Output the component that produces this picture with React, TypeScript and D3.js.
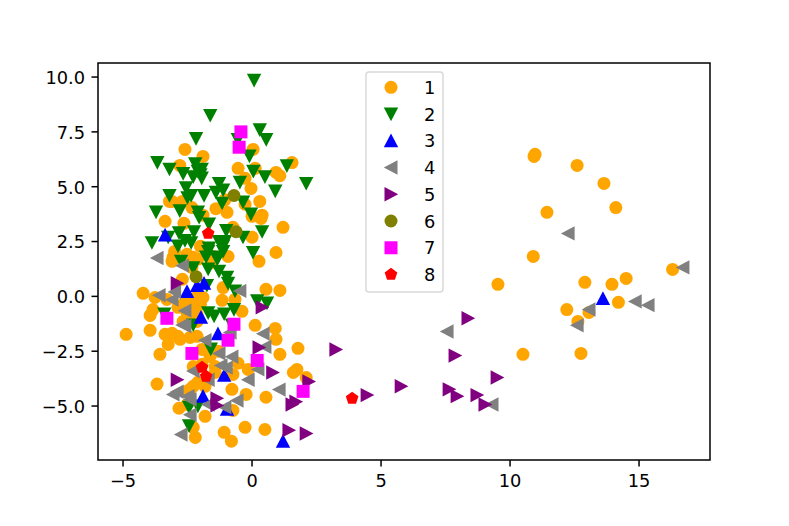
import React from 'react';
import * as d3 from 'd3';

const series1: number[][] = [[-2.6,6.7],[-1.9,6.38],[0.04,6.7],[-2.8,5.97],[-0.54,5.84],[0.12,5.84],[1.55,6.1],[0.93,5.65],[1.08,5.5],[-0.27,5.38],[-0.04,4.92],[-3.2,4.33],[-3.1,4.33],[-2.7,4.33],[-2.33,4.05],[-1.4,4.0],[-0.97,3.83],[-1.05,4.4],[0.3,4.33],[-0.27,4.2],[0.39,3.7],[0.35,3.55],[0,3.65],[-1.9,3.7],[-3.37,3.42],[-2.64,3.33],[1.2,3.15],[-0.74,3.15],[0,2.7],[-2.0,2.28],[0.93,2.0],[-0.93,1.82],[0.27,1.6],[-3.0,2.05],[-3.06,1.78],[-2.52,1.92],[-2.28,1.78],[-2.1,1.7],[-1.5,1.82],[-3.1,1.6],[-2.33,1.32],[-1.55,1.55],[-2.7,0.78],[-4.22,0.14],[-3.76,-0.05],[-3.3,-0.14],[-1.12,0.4],[0.54,0.32],[1.08,0.27],[-1.9,-0.05],[-2.13,0],[-2.4,-0.14],[-1.16,-0.18],[-0.66,-0.14],[-3.84,-0.6],[-3.95,-0.87],[-2.87,-0.5],[-2.28,-0.6],[-2.0,-0.36],[-2.67,-0.36],[-2.52,-0.73],[-2.13,-0.82],[-2.4,-1.14],[-2.67,-1.14],[-2.13,-1.14],[-0.39,-0.68],[0.12,-1.32],[0.9,-1.46],[0.93,-1.96],[-3.95,-1.55],[-4.88,-1.73],[-3.37,-1.73],[-3.1,-1.68],[-3.25,-2.19],[-2.87,-1.82],[-2.79,-1.96],[-2.4,-1.87],[-2.13,-1.82],[-1.94,-2.42],[-1.63,-2.74],[-1.32,-2.5],[-1.94,-3.1],[-3.57,-2.64],[1.78,-2.37],[1.08,-2.64],[-0.54,-3.05],[-2.28,-3.2],[-1.43,-3.47],[-1.43,-3.2],[-0.74,-3.56],[-0.15,-3.33],[1.6,-3.47],[1.74,-3.33],[2.1,-3.7],[-3.68,-4.0],[-2.1,-3.92],[-2.28,-4.1],[-1.82,-4.1],[-2.52,-4.33],[-0.78,-4.24],[-2.4,-4.24],[-0.23,-4.47],[0.54,-4.6],[-2.83,-5.1],[-1.82,-5.47],[-0.74,-5.2],[-2.52,-4.93],[-2.28,-5.97],[-2.2,-6.43],[-1.08,-6.2],[-0.8,-6.6],[-0.27,-5.97],[0.5,-6.07],[9.53,0.55],[10.93,6.38],[10.97,6.48],[12.6,5.97],[13.64,5.15],[14.1,4.05],[11.43,3.83],[10.9,1.82],[12.9,0.64],[13.95,0.55],[14.5,0.82],[12.2,-0.6],[12.63,-1.14],[13.06,-0.73],[14.2,-0.27],[16.3,1.23],[10.5,-2.64],[12.75,-2.6]];
const series2: number[][] = [[0.08,9.85],[-1.62,8.25],[0.3,7.6],[0.55,7.15],[-0.55,7.15],[-2.17,7.2],[-3.67,6.1],[-3.2,5.8],[-0.1,6.4],[1.35,5.95],[2.1,5.15],[0.05,5.7],[0.5,5.45],[0.9,4.8],[-2.67,5.6],[-2.2,6.05],[-1.95,5.8],[-2.28,5.45],[-2.1,5.7],[-2.0,5.55],[-1.95,5.4],[-2.56,4.95],[-2.36,4.6],[-2.5,4.5],[-3.2,4.6],[-1.86,4.6],[-1.28,5.15],[-1.12,4.85],[-1.4,4.75],[-0.47,5.2],[-1.16,4.25],[-0.35,4.3],[-0.04,3.75],[-3.72,3.85],[-2.8,3.9],[-2.1,3.85],[-2.05,3.6],[-1.67,3.3],[-2.83,2.9],[-2.25,2.95],[-1.0,3.0],[0.39,2.95],[-0.35,2.7],[-3.88,2.45],[-3.25,2.7],[-2.87,2.3],[-2.6,2.55],[-2.36,2.45],[-1.28,2.5],[-1.05,2.5],[-1.12,2.3],[-1.67,2.2],[-1.7,2.05],[-1.3,1.8],[-1.12,2.05],[0.04,2.0],[-2.75,1.6],[-2.28,1.3],[-1.78,1.8],[-1.7,1.25],[-1.35,1.7],[-1.28,1.15],[-0.97,0.87],[-0.93,0.6],[-0.66,0.25],[-1.75,0.5],[0.2,-0.2],[0.58,-0.3],[-3.4,-0.8],[-2.28,-1.3],[-1.7,-0.75],[-1.47,-0.9],[-1.08,-0.8],[-0.7,-0.6],[-0.78,-1.3],[-1.6,-2.4],[-2.44,-5.05],[-2.1,-5.0],[-2.44,-5.9]];
const series3: number[][] = [[-3.37,2.8],[-2.52,0.22],[-2.13,0.5],[-1.86,0.6],[-1.98,-0.95],[-1.32,-1.7],[-1.08,-3.6],[-1.9,-4.55],[-0.97,-5.15],[1.2,-6.6],[13.6,-0.1]];
const series4: number[][] = [[-3.68,1.75],[-2.7,1.4],[-3.0,0.2],[-3.6,0.05],[-3.1,-0.15],[-2.6,-0.65],[-2.7,-1.3],[-2.6,-1.35],[-0.47,0.25],[0.43,-1.7],[0.5,-2.3],[-1.82,-2.0],[-0.85,-1.65],[-1.28,-2.6],[-0.78,-2.75],[-1.2,-3.15],[-1.0,-3.25],[-2.28,-3.4],[-1.7,-3.8],[0.23,-3.33],[-0.15,-3.8],[1.05,-4.25],[-3.06,-4.47],[-2.9,-4.35],[-2.48,-4.55],[-2.4,-4.7],[-1.7,-4.93],[-1.05,-5.05],[-0.58,-4.75],[-2.4,-5.4],[-2.75,-6.3],[12.25,2.87],[7.56,-1.6],[9.3,-4.93],[12.6,-1.32],[13.06,-0.6],[14.85,-0.23],[15.35,-0.4],[16.7,1.32]];
const series5: number[][] = [[-2.9,0.6],[0.39,-0.5],[0.27,-2.33],[0.8,-3.47],[-2.9,-3.8],[-1.36,-4.65],[-1.36,-4.97],[1.7,-4.8],[1.55,-4.93],[2.2,-3.88],[1.43,-6.1],[2.1,-6.25],[3.25,-2.42],[4.46,-4.5],[5.78,-4.1],[7.64,-4.24],[7.95,-4.55],[8.37,-1.0],[7.87,-2.7],[8.72,-4.5],[9.03,-4.93],[9.5,-3.7]];
const series6: number[][] = [[-0.7,4.6],[-0.62,2.95],[-2.17,0.9]];
const series7: number[][] = [[-0.43,7.5],[-0.5,6.8],[-3.3,-1.0],[-0.7,-1.27],[-0.93,-2.0],[-2.33,-2.6],[0.2,-2.92],[1.98,-4.33]];
const series8: number[][] = [[-1.7,2.87],[-1.94,-3.24],[-1.78,-3.65],[3.88,-4.65]];

const legendLabels = ['1', '2', '3', '4', '5', '6', '7', '8'];
const colors = ['orange', 'green', 'blue', 'gray', 'purple', 'olive', 'magenta', 'red'];
const shapes = ['circle', 'down', 'up', 'left', 'right', 'circle', 'square', 'pentagon'];
const allSeries = [series1, series2, series3, series4, series5, series6, series7, series8];
const xTicks = [-5, 0, 5, 10, 15];
const yTicks = [-5, -2.5, 0, 2.5, 5, 7.5, 10];

const W = 789, H = 526;
const L = 98, R = 710, T = 63, B = 460;
const FONT = '"DejaVu Sans", sans-serif';
const FS = 17.8;

const x = d3.scaleLinear().domain([-5.97, 17.75]).range([L, R]);
const y = d3.scaleLinear().domain([-7.46, 10.64]).range([B, T]);

const s = 6.5;
const t = 7.2;
function markerPath(shape: string): string {
  const p = d3.path();
  const poly = (pts: number[][]) => {
    pts.forEach((q, i) => (i ? p.lineTo(q[0], q[1]) : p.moveTo(q[0], q[1])));
    p.closePath();
  };
  if (shape === 'circle') p.arc(0, 0, s, 0, Math.PI * 2);
  else if (shape === 'down') poly([[-t, -s], [t, -s], [0, t]]);
  else if (shape === 'up') poly([[-t, s], [t, s], [0, -t]]);
  else if (shape === 'left') poly([[s, -t], [s, t], [-t, 0]]);
  else if (shape === 'right') poly([[-s, -t], [-s, t], [t, 0]]);
  else if (shape === 'square') poly([[-s, -s], [s, -s], [s, s], [-s, s]]);
  else poly(d3.range(5).map(i => {
    const a = -Math.PI / 2 + (i * 2 * Math.PI) / 5;
    return [s * 1.02 * Math.cos(a), s * 1.02 * Math.sin(a)];
  }));
  return p.toString();
}

const fmtY = (v: number) => v.toFixed(1).replace('-', '\u2212');
const fmtX = (v: number) => String(v).replace('-', '\u2212');

export default function App() {
  const legY = d3.scaleLinear().domain([0, 7]).range([87.3, 274.5]);
  return (
    <svg width={W} height={H} viewBox={`0 0 ${W} ${H}`} style={{ position: 'fixed', left: 0, top: 0, background: '#fff' }} fontFamily={FONT} fontSize={FS}>
      {allSeries.map((ser, i) => (
        <g key={i} fill={colors[i]}>
          {ser.map((d, j) => (
            <path key={j} d={markerPath(shapes[i])} transform={`translate(${x(d[0])},${y(d[1])})`} />
          ))}
        </g>
      ))}
      <rect x={L} y={T} width={R - L} height={B - T} fill="none" stroke="#000" strokeWidth={1.5} />
      {xTicks.map(v => (
        <g key={v} transform={`translate(${x(v)},${B})`}>
          <line y2={6.5} stroke="#000" strokeWidth={1.5} />
          <text y={26.5} textAnchor="middle" fill="#000">{fmtX(v)}</text>
        </g>
      ))}
      {yTicks.map(v => (
        <g key={v} transform={`translate(${L},${y(v)})`}>
          <line x2={-6.5} stroke="#000" strokeWidth={1.5} />
          <text x={-13} y={6.8} textAnchor="end" fill="#000">{fmtY(v)}</text>
        </g>
      ))}
      <rect x={366} y={72} width={77} height={220} rx={3} fill="#fff" fillOpacity={0.8} stroke="#d9d9d9" strokeWidth={1.5} />
      {legendLabels.map((lab, i) => (
        <g key={lab} transform={`translate(0,${legY(i)})`}>
          <path d={markerPath(shapes[i])} transform="translate(391,0)" fill={colors[i]} />
          <text x={424} y={6.5} fill="#000">{lab}</text>
        </g>
      ))}
    </svg>
  );
}
